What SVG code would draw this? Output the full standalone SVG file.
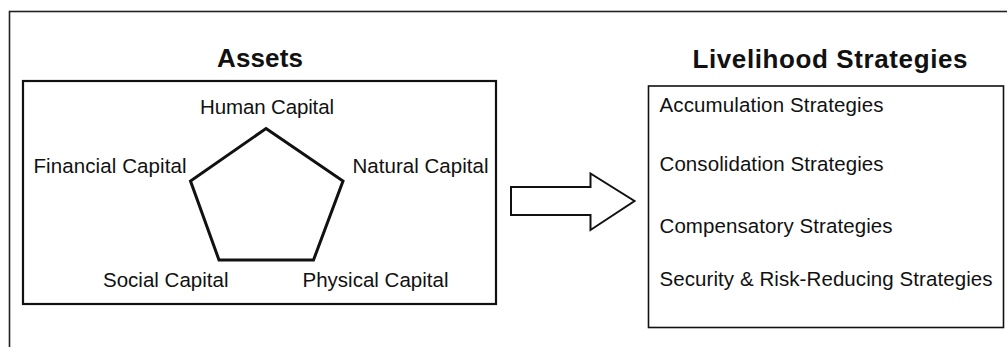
<svg xmlns="http://www.w3.org/2000/svg" width="1007" height="347" viewBox="0 0 1007 347">
<style>
.t{font-family:"Liberation Sans",Arial,sans-serif;font-size:20.5px;fill:#111}
.h{font-family:"Liberation Sans",Arial,sans-serif;font-size:26px;font-weight:bold;fill:#111}
.box{fill:#fff;stroke:#111}
</style>
<rect x="0" y="0" width="1007" height="347" fill="#fff"/>
<rect id="frame" x="9.5" y="11.5" width="1100" height="400" fill="none" stroke="#222" stroke-width="1.6"/>
<g id="assets">
<text class="h" x="217" y="67" textLength="86" lengthAdjust="spacing">Assets</text>
<rect class="box" x="23" y="81" width="473" height="223" stroke-width="2.2"/>
<polygon points="266,128.5 343,181 313.5,260 219,260 190.5,181" fill="none" stroke="#111" stroke-width="3" stroke-linejoin="miter"/>
<text class="t" x="200" y="114" textLength="134" lengthAdjust="spacing">Human Capital</text>
<text class="t" x="33.5" y="172.5" textLength="153" lengthAdjust="spacing">Financial Capital</text>
<text class="t" x="352.5" y="172.5" textLength="136" lengthAdjust="spacing">Natural Capital</text>
<text class="t" x="103" y="287" textLength="125.5" lengthAdjust="spacing">Social Capital</text>
<text class="t" x="302.5" y="287" textLength="146" lengthAdjust="spacing">Physical Capital</text>
</g>
<g id="connectors">
<polygon points="511,187 590.5,187 590.5,173.5 634.5,201 590.5,230 590.5,215 511,215" fill="#fff" stroke="#111" stroke-width="2"/>
</g>
<g id="strategies">
<text class="h" x="692.5" y="68" textLength="275" lengthAdjust="spacing">Livelihood Strategies</text>
<rect class="box" x="648.5" y="86" width="355" height="241.5" stroke-width="1.6"/>
<text class="t" x="659.5" y="111.5" textLength="224" lengthAdjust="spacing">Accumulation Strategies</text>
<text class="t" x="659.5" y="170.5" textLength="224" lengthAdjust="spacing">Consolidation Strategies</text>
<text class="t" x="659.5" y="232.5" textLength="233" lengthAdjust="spacing">Compensatory Strategies</text>
<text class="t" x="659.5" y="286" textLength="333" lengthAdjust="spacing">Security &amp; Risk-Reducing Strategies</text>
</g>
</svg>
